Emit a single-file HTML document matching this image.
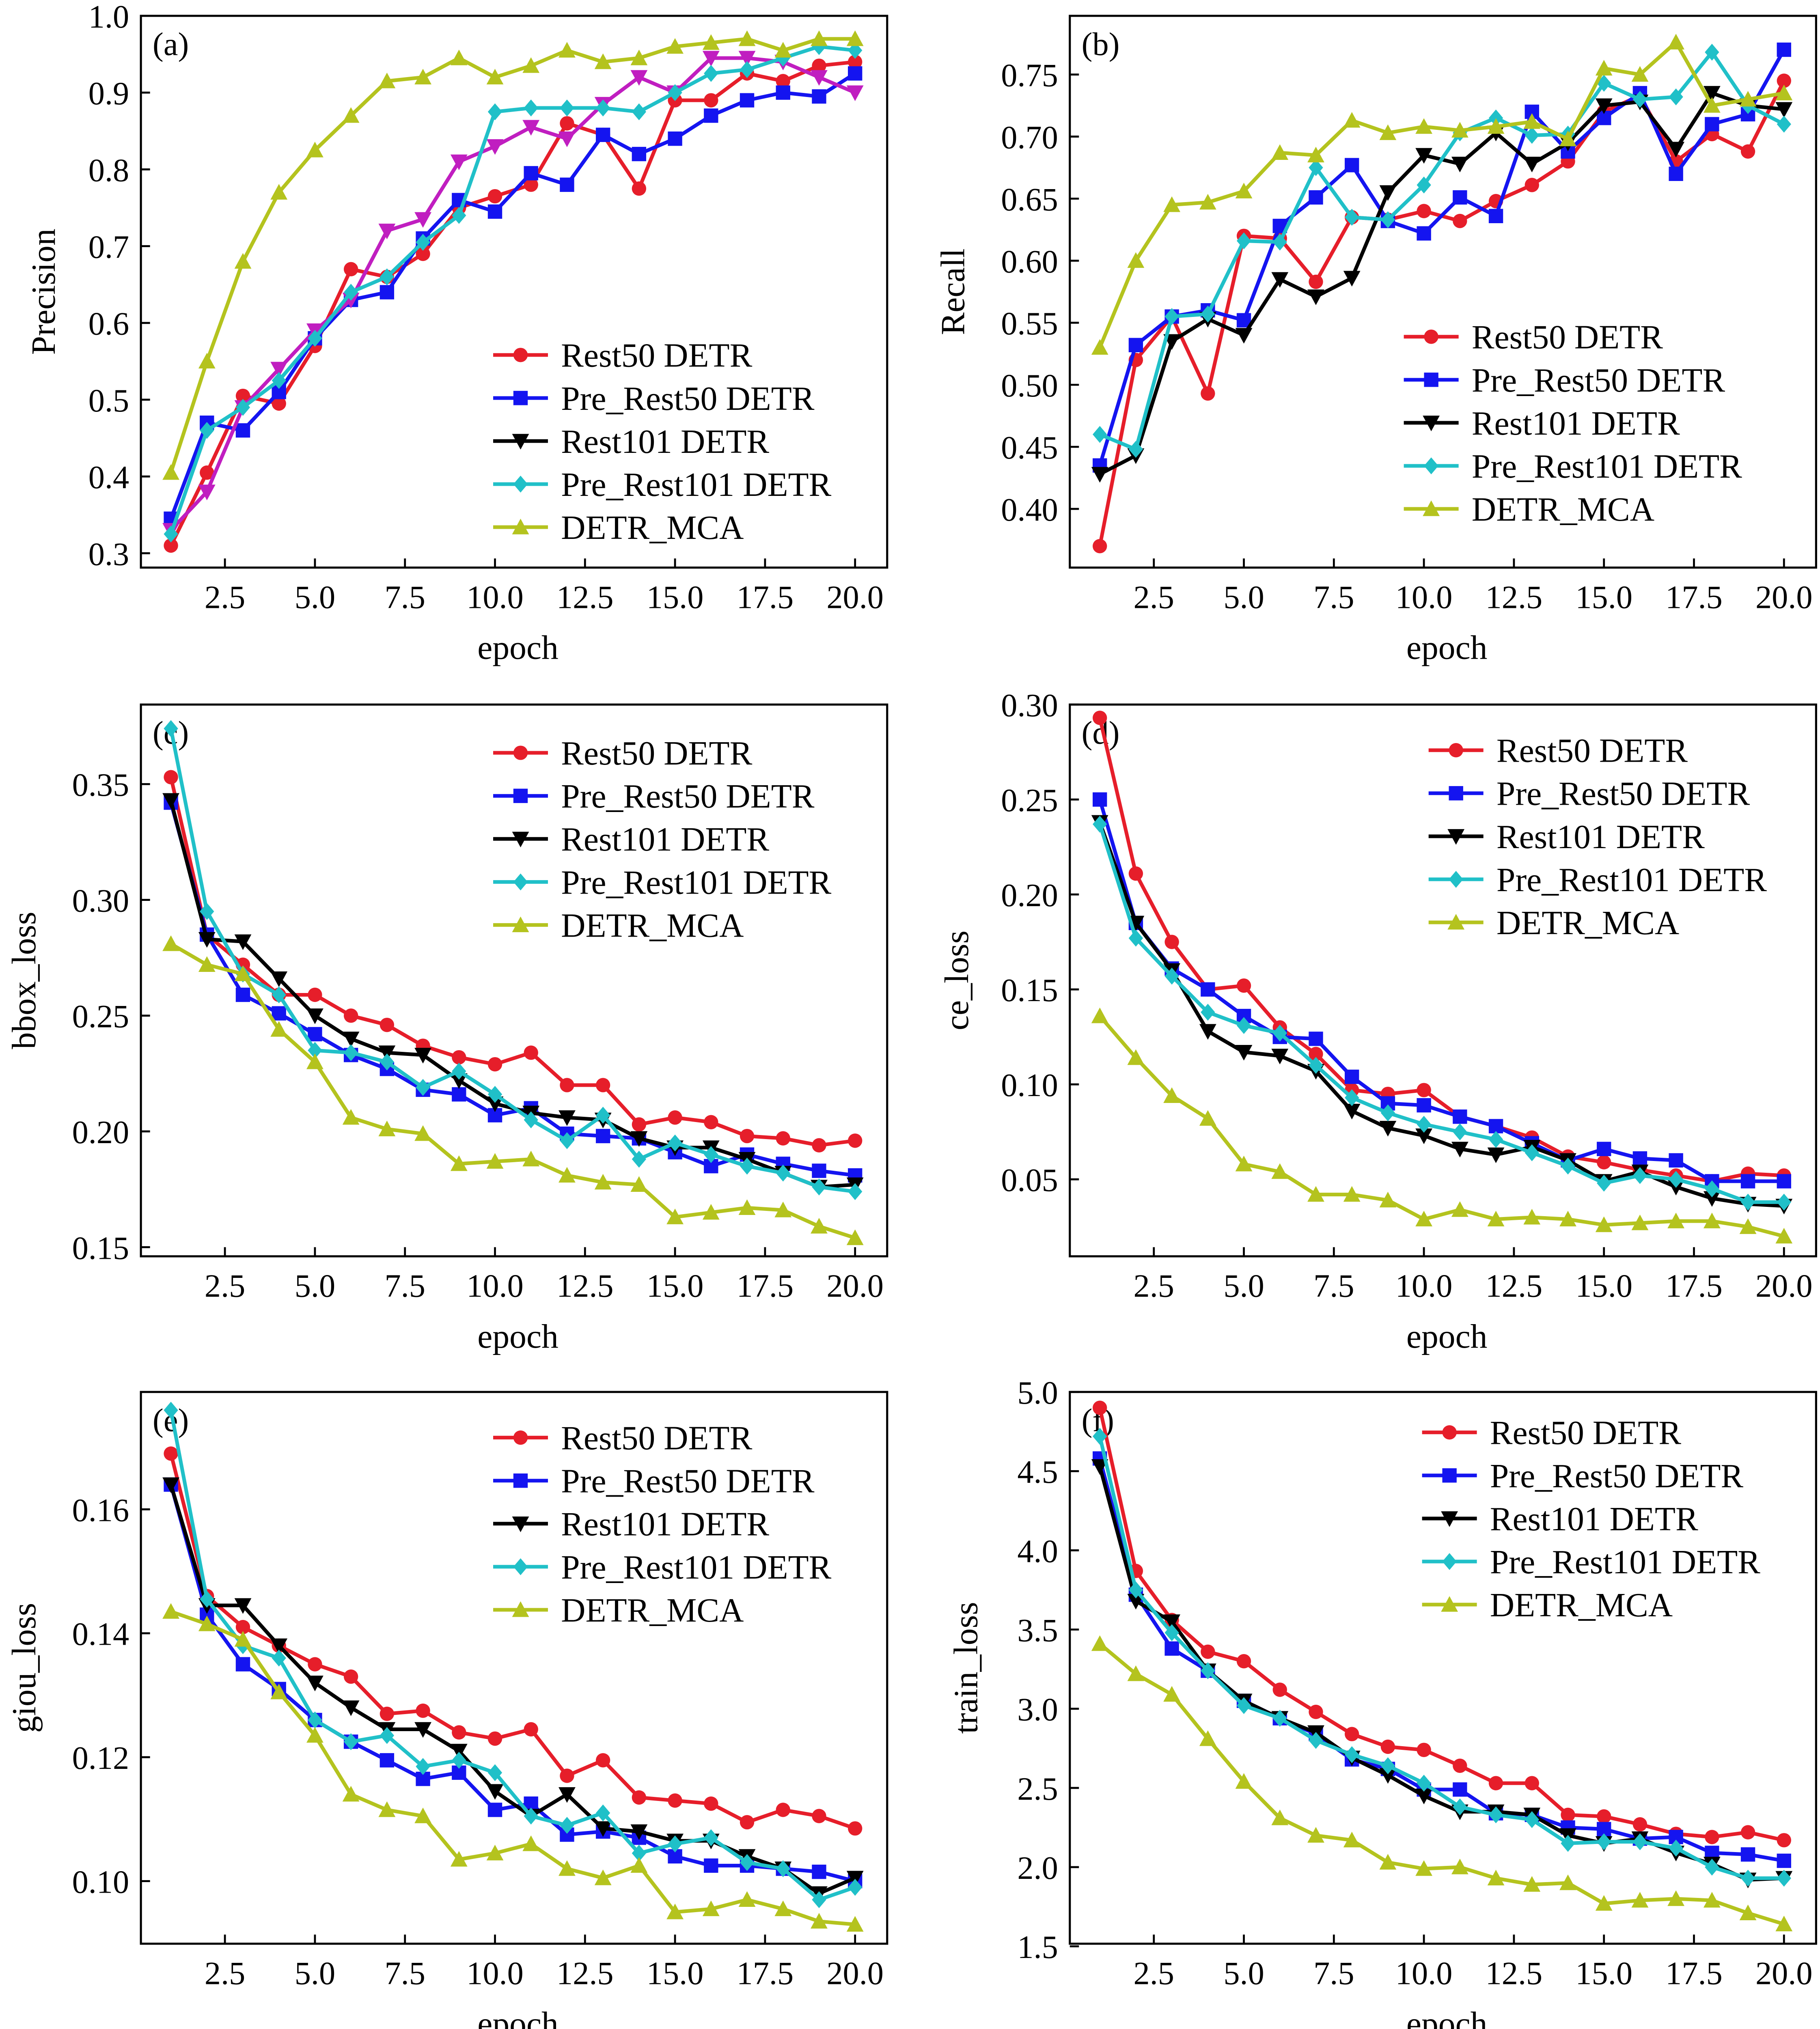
<!DOCTYPE html>
<html><head><meta charset="utf-8">
<style>html,body{margin:0;padding:0;background:#fff;overflow:hidden}svg{display:block}</style></head>
<body>
<svg id="s" xmlns="http://www.w3.org/2000/svg" width="4484" height="5041" viewBox="0 0 1395 1568" font-family="Liberation Serif, serif"></svg>
<script>
const C={r:'#e61e2a',b:'#1414f0',k:'#000',m:'#c01ec0',c:'#20c0c8',y:'#b4c31e'};
const names=['Rest50 DETR','Pre_Rest50 DETR','Rest101 DETR','Pre_Rest101 DETR','DETR_MCA'];
const P=[
{x0:108,y0:12,lab:'(a)',yl:'Precision',ylx:33,lo:0.3,hi:1.0,ylo:424,yhi:12,ticks:[0.3,0.4,0.5,0.6,0.7,0.8,0.9,1.0],dec:1,leg:[378,272],bk:'m',
d:[[.31,.405,.505,.495,.57,.67,.66,.69,.75,.765,.78,.86,.845,.775,.89,.89,.925,.915,.935,.94],
[.345,.47,.46,.51,.58,.63,.64,.71,.76,.745,.795,.78,.845,.82,.84,.87,.89,.9,.895,.925],
[.33,.38,.49,.54,.59,.63,.72,.735,.81,.83,.855,.84,.885,.92,.9,.945,.945,.94,.92,.9],
[.325,.46,.49,.525,.58,.64,.66,.705,.74,.875,.88,.88,.88,.875,.9,.925,.93,.945,.96,.955],
[.405,.55,.68,.77,.825,.87,.915,.92,.945,.92,.935,.955,.94,.945,.96,.965,.97,.955,.97,.97]]},
{x0:820,y0:12,lab:'(b)',yl:'Recall',ylx:730,lo:0.40,hi:0.75,ylo:390,yhi:57,ticks:[.4,.45,.5,.55,.6,.65,.7,.75],dec:2,leg:[1076,258],
d:[[.37,.52,.555,.493,.62,.618,.583,.635,.633,.64,.632,.648,.661,.68,.72,.733,.68,.702,.688,.745],
[.435,.532,.555,.56,.552,.628,.651,.677,.632,.622,.651,.636,.72,.688,.715,.735,.67,.71,.718,.77],
[.428,.443,.535,.553,.54,.585,.571,.586,.655,.685,.678,.703,.678,.695,.725,.728,.69,.735,.725,.722],
[.46,.448,.555,.557,.616,.615,.675,.635,.633,.661,.703,.715,.701,.702,.743,.73,.732,.768,.725,.71],
[.53,.6,.645,.647,.656,.687,.685,.713,.703,.708,.705,.708,.712,.698,.755,.75,.776,.725,.73,.735]]},
{x0:108,y0:540,lab:'(c)',yl:'bbox_loss',ylx:18,lo:0.15,hi:0.35,ylo:956,yhi:601,ticks:[.15,.2,.25,.3,.35],dec:2,leg:[378,577],
d:[[.353,.285,.272,.259,.259,.25,.246,.237,.232,.229,.234,.22,.22,.203,.206,.204,.198,.197,.194,.196],
[.342,.285,.259,.251,.242,.233,.227,.218,.216,.207,.21,.199,.198,.197,.191,.185,.19,.186,.183,.181],
[.343,.283,.282,.266,.25,.24,.234,.233,.222,.212,.208,.206,.205,.197,.193,.193,.188,.182,.176,.177],
[.374,.295,.268,.259,.235,.234,.23,.219,.226,.216,.205,.196,.207,.188,.195,.19,.185,.182,.176,.174],
[.281,.272,.268,.244,.23,.206,.201,.199,.186,.187,.188,.181,.178,.177,.163,.165,.167,.166,.159,.154]]},
{x0:820,y0:540,lab:'(d)',yl:'ce_loss',ylx:733,lo:0.05,hi:0.30,ylo:904,yhi:540,ticks:[.05,.1,.15,.2,.25,.3],dec:2,leg:[1095,575],
d:[[.293,.211,.175,.15,.152,.13,.116,.097,.095,.097,.083,.078,.072,.062,.059,.055,.052,.049,.053,.052],
[.25,.185,.161,.15,.136,.125,.124,.104,.09,.089,.083,.078,.069,.06,.066,.061,.06,.049,.049,.049],
[.238,.185,.16,.128,.117,.115,.107,.086,.077,.073,.066,.063,.067,.06,.049,.054,.046,.04,.037,.036],
[.237,.177,.157,.138,.131,.127,.11,.093,.085,.079,.075,.071,.064,.057,.048,.052,.05,.045,.038,.038],
[.136,.114,.094,.082,.058,.054,.042,.042,.039,.029,.034,.029,.03,.029,.026,.027,.028,.028,.025,.02]]},
{x0:108,y0:1067,lab:'(e)',yl:'giou_loss',ylx:18,lo:0.10,hi:0.16,ylo:1442,yhi:1157,ticks:[.1,.12,.14,.16],dec:2,leg:[378,1102],
d:[[.169,.146,.141,.138,.135,.133,.127,.1275,.124,.123,.1245,.117,.1195,.1135,.113,.1125,.1095,.1115,.1105,.1085],
[.164,.143,.135,.131,.126,.1225,.1195,.1165,.1175,.1115,.1125,.1075,.108,.107,.104,.1025,.1025,.102,.1015,.1],
[.164,.1445,.1445,.138,.132,.128,.1245,.1245,.121,.1145,.1105,.114,.1085,.108,.1065,.1065,.104,.102,.098,.1005],
[.176,.1455,.138,.136,.126,.1225,.1235,.1185,.1195,.1175,.1105,.109,.111,.1045,.106,.107,.103,.102,.097,.099],
[.1435,.1415,.139,.1305,.1235,.114,.1115,.1105,.1035,.1045,.106,.102,.1005,.1025,.095,.0955,.097,.0955,.0935,.093]]},
{x0:820,y0:1067,lab:'(f)',yl:'train_loss',ylx:740,lo:1.5,hi:5.0,ylo:1492,yhi:1067,ticks:[1.5,2,2.5,3,3.5,4,4.5,5],dec:1,leg:[1090,1098],
d:[[4.9,3.87,3.56,3.36,3.3,3.12,2.98,2.84,2.76,2.74,2.64,2.53,2.53,2.33,2.32,2.27,2.21,2.19,2.22,2.17],
[4.58,3.72,3.38,3.24,3.05,2.94,2.84,2.68,2.62,2.49,2.49,2.34,2.33,2.25,2.24,2.18,2.19,2.09,2.08,2.04],
[4.53,3.68,3.55,3.24,3.05,2.94,2.85,2.69,2.58,2.45,2.35,2.35,2.33,2.2,2.15,2.18,2.09,2.02,1.92,1.93],
[4.72,3.75,3.48,3.24,3.02,2.94,2.8,2.71,2.64,2.53,2.38,2.33,2.3,2.15,2.16,2.16,2.12,2.0,1.93,1.93],
[3.41,3.22,3.09,2.81,2.54,2.31,2.2,2.17,2.03,1.99,2.0,1.93,1.89,1.9,1.77,1.79,1.8,1.79,1.71,1.64]]}
];
function mk(t,x,y,col,s){s=s||5.5;
 if(t==0)return `<circle cx="${x}" cy="${y}" r="${s}" fill="${col}"/>`;
 if(t==1)return `<rect x="${x-s}" y="${y-s}" width="${2*s}" height="${2*s}" fill="${col}"/>`;
 if(t==2)return `<polygon points="${x-s-1},${y-s} ${x+s+1},${y-s} ${x},${y+s+1}" fill="${col}"/>`;
 if(t==3)return `<polygon points="${x},${y-s-1} ${x+s},${y} ${x},${y+s+1} ${x-s},${y}" fill="${col}"/>`;
 return `<polygon points="${x-s-1},${y+s} ${x+s+1},${y+s} ${x},${y-s-1}" fill="${col}"/>`;}
let o='<rect width="1395" height="1568" fill="#fff"/>';
P.forEach(p=>{
 const W=572,H=423,x1=p.x0+W,y1=p.y0+H;
 const X=v=>p.x0+23+(v-1)*27.6;
 const Y=v=>p.ylo+(v-p.lo)*(p.yhi-p.ylo)/(p.hi-p.lo);
 o+=`<rect x="${p.x0}" y="${p.y0}" width="${W}" height="${H}" fill="none" stroke="#000" stroke-width="1.6"/>`;
 for(let v=2.5;v<=20.01;v+=2.5){const x=X(v);o+=`<line x1="${x}" y1="${y1}" x2="${x}" y2="${y1-7}" stroke="#000" stroke-width="1.5"/><text x="${x}" y="${y1+31}" font-size="25" text-anchor="middle">${v.toFixed(1)}</text>`;}
 p.ticks.forEach(v=>{const y=Y(v);o+=`<line x1="${p.x0}" y1="${y}" x2="${p.x0+7}" y2="${y}" stroke="#000" stroke-width="1.5"/><text x="${p.x0-9}" y="${y+9}" font-size="25" text-anchor="end">${v.toFixed(p.dec)}</text>`;});
 o+=`<text x="${p.x0+W/2+3}" y="${y1+70}" font-size="26" text-anchor="middle">epoch</text>`;
 o+=`<text transform="translate(${p.ylx+9},${p.y0+H/2}) rotate(-90)" font-size="26" text-anchor="middle">${p.yl}</text>`;
 o+=`<text x="${p.x0+9}" y="${p.y0+30}" font-size="25">${p.lab}</text>`;
 const cols=['r','b',p.bk||'k','c','y'];
 p.d.forEach((s,i)=>{const col=C[cols[i]];const pts=s.map((v,j)=>[X(j+1),Y(v)]);
  o+=`<polyline points="${pts.map(a=>a.join(',')).join(' ')}" fill="none" stroke="${col}" stroke-width="2.8" stroke-linejoin="round"/>`;
  pts.forEach(a=>o+=mk(i,a[0],a[1],col));});
 names.forEach((n,i)=>{const col=C[['r','b','k','c','y'][i]];const lx=p.leg[0],ly=p.leg[1]+i*33;
  o+=`<line x1="${lx}" y1="${ly}" x2="${lx+42}" y2="${ly}" stroke="${col}" stroke-width="2.8"/>`+mk(i,lx+21,ly,col)+`<text x="${lx+52}" y="${ly+9}" font-size="26">${n}</text>`;});
});
document.getElementById('s').innerHTML=o;
</script>
</body></html>
